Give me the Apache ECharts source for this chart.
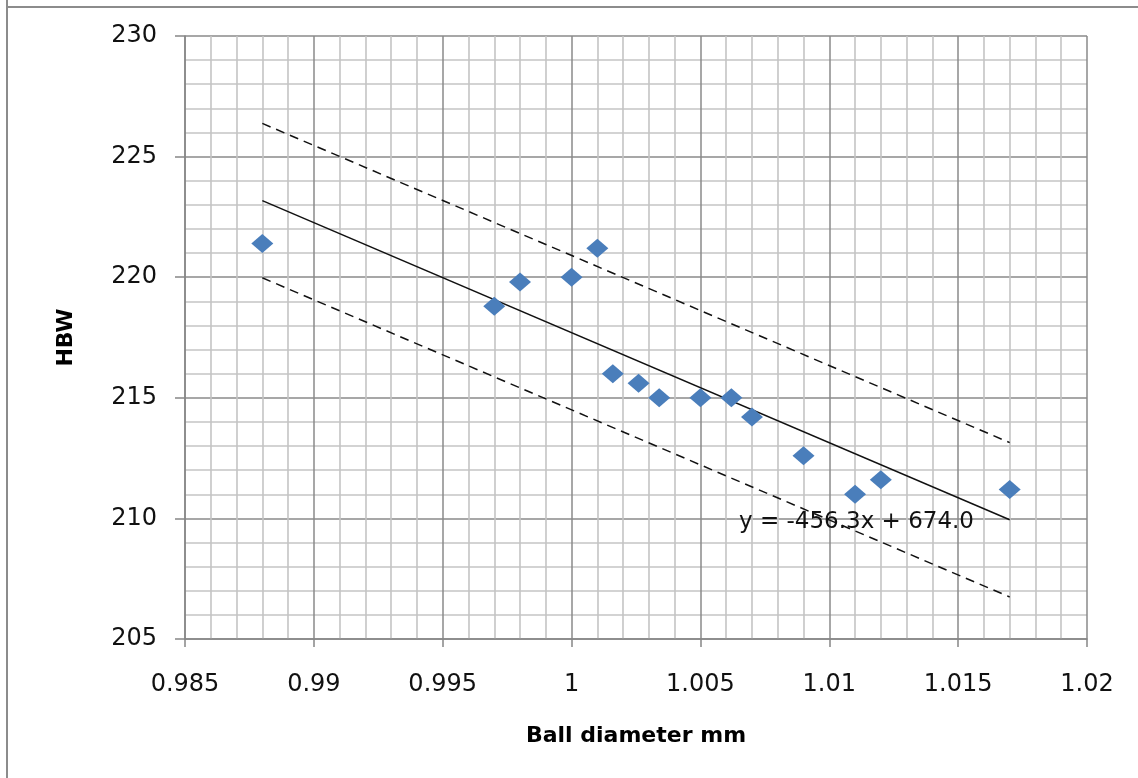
<!DOCTYPE html>
<html>
<head>
<meta charset="utf-8">
<script src="https://cdn.jsdelivr.net/npm/echarts@6/dist/echarts.min.js"></script>
<style>
html,body{margin:0;padding:0;background:#fff;}
#chart{width:1138px;height:778px;}
</style>
</head>
<body>
<div id="chart"></div>
<script>
// Data
const ballDiameter = [0.988, 0.997, 0.998, 1.000, 1.001, 1.0016, 1.0026, 1.0034, 1.005, 1.0062, 1.007, 1.009, 1.011, 1.012, 1.017];
const hardness     = [221.4, 218.8, 219.8, 220.0, 221.2, 216.0, 215.6, 215.0, 215.0, 215.0, 214.2, 212.6, 211.0, 211.6, 211.2];
const trendSlope = -456.3;
const trendIntercept = 674.0;
const bandOffset = 3.2;
const xTicks = [0.985, 0.99, 0.995, 1, 1.005, 1.01, 1.015, 1.02];
const yTicks = [205, 210, 215, 220, 225, 230];
const equationText = 'y = -456.3x + 674.0';

const xMin = Math.min.apply(null, ballDiameter);
const xMax = Math.max.apply(null, ballDiameter);
function lineData(offset) {
  return [xMin, xMax].map(x => [x, trendSlope * x + trendIntercept + offset]);
}

const chart = echarts.init(document.getElementById('chart'), null, {renderer: 'canvas'});
const FONT = 'DejaVu Sans';
const option = {
  animation: false,
  backgroundColor: '#fff',
  grid: {left: 185, right: 51, top: 36, bottom: 139, show: false},
  xAxis: {
    type: 'value',
    min: xTicks[0], max: xTicks[xTicks.length - 1], interval: 0.005,
    name: 'Ball diameter mm', nameLocation: 'middle', nameGap: 86,
    nameTextStyle: {fontFamily: FONT, fontWeight: 'bold', fontSize: 22, color: '#000'},
    axisLine: {show: true, lineStyle: {color: '#868686', width: 1.5}},
    axisTick: {show: true, length: 8, lineStyle: {color: '#868686', width: 1.5}},
    axisLabel: {fontFamily: FONT, fontSize: 24, color: '#111', margin: 34,
      formatter: v => String(parseFloat(v.toFixed(3)))},
    splitLine: {show: true, lineStyle: {color: '#8a8a8a', width: 1.5}},
    minorTick: {show: false, splitNumber: 5},
    minorSplitLine: {show: true, lineStyle: {color: '#c4c4c4', width: 1.6}}
  },
  yAxis: {
    type: 'value',
    min: yTicks[0], max: yTicks[yTicks.length - 1], interval: 5,
    name: 'HBW', nameLocation: 'middle', nameGap: 108, nameRotate: 90,
    nameTextStyle: {fontFamily: FONT, fontWeight: 'bold', fontSize: 22, color: '#000'},
    axisLine: {show: true, lineStyle: {color: '#868686', width: 1.5}},
    axisTick: {show: true, length: 10, lineStyle: {color: '#868686', width: 1.5}},
    axisLabel: {fontFamily: FONT, fontSize: 24, color: '#111', margin: 28},
    splitLine: {show: true, lineStyle: {color: '#8a8a8a', width: 1.5}},
    minorTick: {show: false, splitNumber: 5},
    minorSplitLine: {show: true, lineStyle: {color: '#c4c4c4', width: 1.6}}
  },
  series: [
    {
      type: 'line', data: lineData(bandOffset), symbol: 'none',
      lineStyle: {color: '#111', width: 1.5, type: [9, 6]}, z: 3
    },
    {
      type: 'line', data: lineData(-bandOffset), symbol: 'none',
      lineStyle: {color: '#111', width: 1.5, type: [9, 6]}, z: 3
    },
    {
      type: 'line', data: lineData(0), symbol: 'none',
      lineStyle: {color: '#111', width: 1.5}, z: 3
    },
    {
      type: 'scatter',
      data: ballDiameter.map((x, i) => [x, hardness[i]]),
      symbol: 'diamond', symbolSize: [22, 19],
      itemStyle: {color: '#4a7ebb', opacity: 1}, z: 4
    }
  ],
  graphic: [
    {type: 'line', shape: {x1: 7, y1: 0, x2: 7, y2: 778}, style: {stroke: '#8c8c8c', lineWidth: 2}},
    {type: 'line', shape: {x1: 6, y1: 7, x2: 1138, y2: 7}, style: {stroke: '#8c8c8c', lineWidth: 2}},
    {type: 'text', left: 739, top: 511, z: 10,
      style: {text: equationText, fontFamily: FONT, fontSize: 23, fill: '#111'}}
  ]
};
chart.setOption(option);
</script>
</body>
</html>
